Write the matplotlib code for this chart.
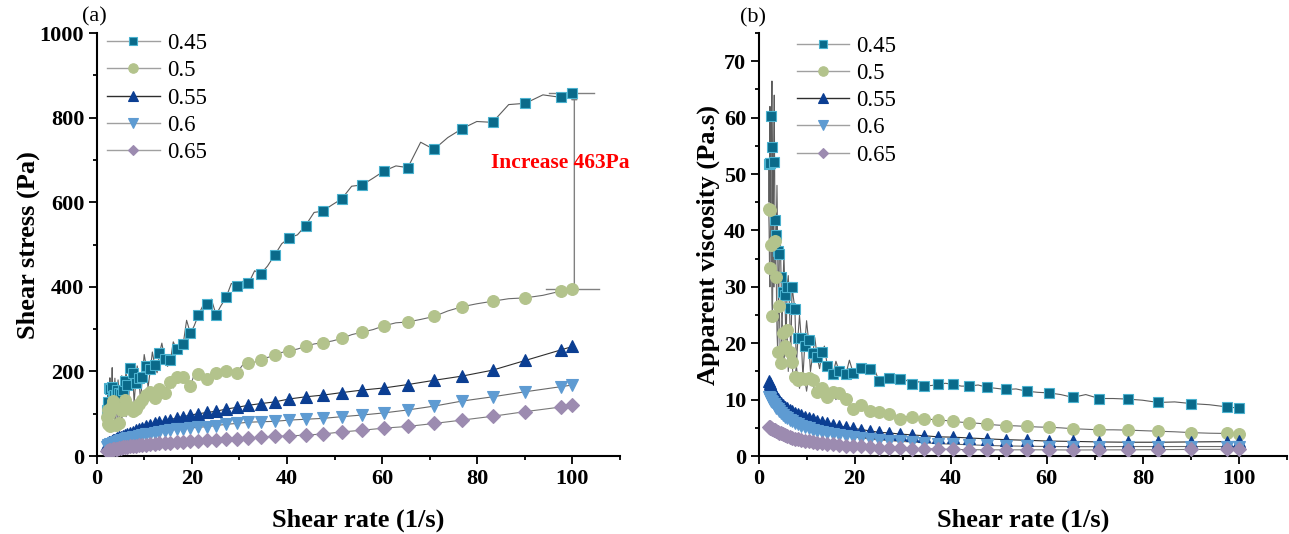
import matplotlib
matplotlib.use("Agg")
import matplotlib.pyplot as plt
from matplotlib.lines import Line2D
from matplotlib.ticker import MultipleLocator

plt.rcParams['font.family'] = ['Liberation Serif', 'DejaVu Serif']
plt.rcParams['font.weight'] = 'bold'

# Shear-rate ramp (1/s); every second point carries a symbol
shear_rate = [
    2.10, 2.19, 2.28, 2.37, 2.47, 2.57, 2.67, 2.78, 2.89, 3.01,
    3.13, 3.26, 3.40, 3.54, 3.68, 3.83, 3.98, 4.15, 4.32, 4.50,
    4.68, 4.87, 5.06, 5.27, 5.49, 5.71, 5.94, 6.18, 6.44, 6.70,
    6.98, 7.26, 7.56, 7.87, 8.19, 8.52, 8.87, 9.23, 9.60, 9.99,
    10.4, 10.8, 11.3, 11.7, 12.2, 12.7, 13.2, 13.7, 14.3, 14.9,
    15.5, 16.1, 16.8, 17.5, 18.2, 18.9, 19.7, 20.5, 21.4, 22.3,
    23.2, 24.1, 25.1, 26.1, 27.2, 28.3, 29.4, 30.6, 31.9, 33.2,
    34.5, 35.9, 37.4, 38.9, 40.5, 42.2, 43.9, 45.7, 47.5, 49.5,
    51.5, 53.6, 55.8, 58.1, 60.4, 62.9, 65.4, 68.1, 70.9, 73.8,
    76.8, 79.9, 83.2, 86.6, 90.1, 93.8, 97.6, 98.8, 100.0,
]
shear_rate_sym = shear_rate[::2]

ratios = ['0.45', '0.5', '0.55', '0.6', '0.65']

# Shear stress (Pa)
stress_045 = [
    109, 99, 119, 147, 128, 98, 161, 185, 158, 90,
    163, 209, 142, 117, 144, 184, 144, 100, 155, 180,
    149, 107, 147, 190, 156, 108, 178, 198, 169, 121,
    209, 203, 197, 126, 172, 213, 185, 129, 188, 240,
    213, 162, 206, 246, 215, 197, 243, 267, 229, 212,
    226, 270, 252, 245, 266, 321, 290, 308, 334, 355,
    360, 371, 334, 355, 375, 408, 403, 413, 408, 438,
    431, 449, 475, 502, 516, 523, 545, 576, 579, 594,
    608, 638, 641, 657, 674, 686, 682, 742, 725, 753,
    774, 791, 789, 831, 834, 854, 848, 850, 858,
]
stress_05 = [
    92, 88, 76, 71, 108, 113, 100, 75, 72, 108,
    119, 98, 130, 124, 117, 84, 74, 112, 115, 81,
    77, 117, 110, 84, 108, 131, 133, 93, 119, 134,
    117, 94, 106, 126, 111, 102, 122, 134, 132, 115,
    144, 140, 151, 129, 138, 157, 158, 140, 150, 173,
    175, 161, 188, 191, 186, 170, 165, 193, 195, 190,
    183, 195, 197, 196, 201, 204, 196, 214, 220, 222,
    228, 233, 238, 245, 249, 253, 259, 265, 268, 272,
    278, 287, 293, 299, 308, 315, 317, 323, 330, 343,
    353, 360, 366, 372, 374, 380, 390, 390, 395,
]
stress_055 = [
    28, 29.5, 31, 32.5, 34, 35.5, 37, 38.5, 40, 42,
    44, 46, 48, 50.5, 53, 55.5, 58, 61, 64, 67,
    71, 74, 77, 80, 83, 86, 90, 93, 97, 100,
    103, 106, 111, 115, 120, 124, 128, 135, 140, 144,
    150, 156, 161, 169, 179, 189, 203, 226, 251, 259,
]
stress_06 = [
    22, 23.5, 25, 26, 27.5, 29, 30, 31.5, 33, 34,
    35.5, 37, 38.5, 40, 41.5, 43, 44.5, 46, 47.5, 49,
    51, 53, 55, 57, 59, 61, 63, 65, 66.5, 68,
    69.5, 72, 75, 77, 80, 81, 82, 85, 87, 89,
    93, 97, 102, 109, 118, 130, 140, 152, 164, 168,
]
stress_065 = [
    11, 11.8, 12.5, 13.2, 14, 14.8, 15.5, 16.2, 17, 17.8,
    18.6, 19.4, 20.2, 21, 21.8, 22.6, 23.4, 24.2, 25, 26,
    27, 28, 29, 30, 31, 32, 33, 34, 35, 36,
    37, 38, 40, 41, 42, 45, 46.5, 47.5, 49.5, 52,
    57, 61, 66, 70, 77, 85, 94, 105, 116, 120,
]

# Apparent viscosity (Pa.s)
visc_045 = [
    51.8, 45, 52.0, 62, 51.9, 38, 60.3, 66.5, 54.8, 30,
    52.2, 64, 41.9, 33, 39.2, 48, 36.3, 24, 35.8, 40,
    31.8, 22, 29.1, 36, 28.5, 19, 29.9, 32, 26.2, 18,
    30.0, 28, 26.1, 16, 21.0, 25, 20.9, 14, 19.6, 24,
    20.5, 15, 18.2, 21, 17.6, 15.5, 18.4, 19.5, 16.0, 14.2,
    14.6, 16.8, 15.0, 14.0, 14.6, 17.0, 14.7, 15.0, 15.6, 15.9,
    15.5, 15.4, 13.3, 13.6, 13.8, 14.4, 13.7, 13.5, 12.8, 13.2,
    12.5, 12.5, 12.7, 12.9, 12.7, 12.4, 12.4, 12.6, 12.2, 12.0,
    11.8, 11.9, 11.5, 11.3, 11.2, 10.9, 10.4, 10.9, 10.2, 10.2,
    10.1, 9.9, 9.5, 9.6, 9.3, 9.1, 8.7, 8.6, 8.6,
]
visc_05 = [
    43.8, 40, 33.3, 30, 43.6, 44, 37.5, 27, 24.9, 36,
    38.0, 30, 38.2, 35, 31.8, 22, 18.5, 27, 26.6, 18,
    16.5, 24, 21.8, 16, 19.6, 23, 22.4, 15, 18.5, 20,
    16.7, 13, 14.0, 16, 13.5, 12, 13.8, 14.5, 13.7, 11.5,
    13.8, 13.0, 13.4, 11.0, 11.3, 12.4, 12.0, 10.2, 10.5, 11.6,
    11.3, 10.0, 11.2, 10.9, 10.2, 9.0, 8.4, 9.4, 9.1, 8.5,
    7.9, 8.1, 7.85, 7.5, 7.4, 7.2, 6.65, 7.0, 6.9, 6.7,
    6.6, 6.5, 6.35, 6.3, 6.15, 6.0, 5.9, 5.8, 5.65, 5.5,
    5.4, 5.35, 5.25, 5.15, 5.1, 5.0, 4.85, 4.75, 4.65, 4.65,
    4.6, 4.5, 4.4, 4.3, 4.15, 4.05, 4.0, 3.95, 3.95,
]
visc_055 = [
    13.3, 12.9, 12.6, 12.2, 11.8, 11.3, 10.9, 10.5, 10.1, 9.7,
    9.4, 9.1, 8.7, 8.5, 8.2, 7.95, 7.7, 7.45, 7.2, 7.0,
    6.8, 6.55, 6.3, 6.05, 5.8, 5.55, 5.35, 5.1, 4.9, 4.7,
    4.45, 4.2, 4.1, 3.9, 3.75, 3.6, 3.4, 3.35, 3.2, 3.05,
    2.9, 2.8, 2.65, 2.6, 2.5, 2.45, 2.45, 2.5, 2.55, 2.6,
]
visc_06 = [
    10.5, 10.3, 10.1, 9.7, 9.5, 9.3, 8.8, 8.6, 8.3, 7.9,
    7.6, 7.3, 7.0, 6.7, 6.4, 6.2, 5.9, 5.6, 5.35, 5.1,
    4.9, 4.7, 4.5, 4.3, 4.1, 3.95, 3.75, 3.55, 3.4, 3.2,
    3.0, 2.85, 2.75, 2.6, 2.5, 2.35, 2.2, 2.1, 2.0, 1.87,
    1.8, 1.74, 1.69, 1.67, 1.66, 1.69, 1.68, 1.69, 1.68, 1.68,
]
visc_065 = [
    5.2, 5.2, 5.05, 4.95, 4.85, 4.7, 4.55, 4.4, 4.3, 4.1,
    4.0, 3.85, 3.7, 3.55, 3.4, 3.25, 3.1, 2.95, 2.8, 2.7,
    2.6, 2.5, 2.4, 2.3, 2.15, 2.05, 1.95, 1.85, 1.8, 1.7,
    1.6, 1.5, 1.47, 1.4, 1.3, 1.3, 1.25, 1.17, 1.13, 1.1,
    1.1, 1.1, 1.1, 1.07, 1.09, 1.1, 1.13, 1.17, 1.19, 1.2,
]

stress_increase = 463

# Series styling
faces = ['#0a6a8a', '#b3c38c', '#0b3e92', '#5e9bd2', '#9c8bb0']
edges = ['#4bb2cf', '#b3c38c', '#0b3e92', '#5e9bd2', '#9c8bb0']
markers = ['s', 'o', '^', 'v', 'D']
msizes = [7.5, 8.5, 8.5, 8.5, 6.8]
line_cols = ['#5c5c5c', '#6a6a6a', '#2e2e2e', '#6a6a6a', '#7a7a7a']

fig = plt.figure(figsize=(12.89, 5.34), dpi=100)
ax_a = fig.add_axes([0.075, 0.146, 0.406, 0.792])
ax_b = fig.add_axes([0.5885, 0.146, 0.410, 0.792])


def draw_series(ax, curves):
    for i, (xs, ys, every) in enumerate(curves):
        ax.plot(xs, ys, color=line_cols[i], lw=0.8, zorder=2 + i * 0.1)
        ax.plot(xs, ys, ls='none', marker=markers[i], markevery=every,
                ms=msizes[i], mfc=faces[i], mec=edges[i], mew=0.8,
                zorder=3 + i * 0.1)


draw_series(ax_a, [
    (shear_rate, stress_045, 2),
    (shear_rate, stress_05, 2),
    (shear_rate_sym, stress_055, 1),
    (shear_rate_sym, stress_06, 1),
    (shear_rate_sym, stress_065, 1),
])
draw_series(ax_b, [
    (shear_rate, visc_045, 2),
    (shear_rate, visc_05, 2),
    (shear_rate_sym, visc_055, 1),
    (shear_rate_sym, visc_06, 1),
    (shear_rate_sym, visc_065, 1),
])

# Increase between the 0.45 and 0.5 curves at the highest shear rate
top = stress_045[-1]
base = top - stress_increase
x_arrow = shear_rate[-1] + 0.4
ax_a.plot([95.0, 104.5], [top, top], color='#808080', lw=1.0, zorder=2.5, clip_on=False)
ax_a.plot([94.5, 105.5], [base, base], color='#808080', lw=1.0, zorder=2.5, clip_on=False)
ax_a.annotate('', xy=(x_arrow, top), xytext=(x_arrow, base),
              arrowprops=dict(arrowstyle='-|>', mutation_scale=9, lw=1.0,
                              ec='#808080', fc='black', shrinkA=0, shrinkB=0),
              zorder=2.6)
ax_a.text(97.5, 692, f'Increase {stress_increase}Pa', color='#ff0000',
          fontsize=15.5, fontweight='bold', ha='center', va='center',
          clip_on=False, zorder=5)

for ax, top_lim, major, minor in ((ax_a, 1000, 200, 100), (ax_b, 75, 10, 5)):
    ax.set_xlim(0, 110)
    ax.set_ylim(0, top_lim)
    ax.xaxis.set_major_locator(MultipleLocator(20))
    ax.xaxis.set_minor_locator(MultipleLocator(10))
    ax.yaxis.set_major_locator(MultipleLocator(major))
    ax.yaxis.set_minor_locator(MultipleLocator(minor))
    for side in ('top', 'right'):
        ax.spines[side].set_visible(False)
    for side in ('left', 'bottom'):
        ax.spines[side].set_linewidth(1.5)
    ax.tick_params(which='major', direction='out', length=6, width=1.3,
                   labelsize=16, pad=3)
    ax.tick_params(which='minor', direction='out', length=3, width=1.3)
    ax.set_xlabel('Shear rate (1/s)', fontsize=19, fontweight='bold', va='center')
    ax.xaxis.set_label_coords(0.5, -0.151)

ax_a.set_ylabel('Shear stress (Pa)', fontsize=19, fontweight='bold', va='center')
ax_a.yaxis.set_label_coords(-0.131, 0.5)
ax_b.set_ylabel('Apparent viscosity (Pa.s)', fontsize=19, fontweight='bold', va='center')
ax_b.yaxis.set_label_coords(-0.096, 0.5)

ax_a.text(-0.005, 1.038, '(a)', transform=ax_a.transAxes, fontsize=16,
          fontweight='normal', ha='center', va='center')
ax_b.text(-0.011, 1.035, '(b)', transform=ax_b.transAxes, fontsize=16,
          fontweight='normal', ha='center', va='center')

handles = [Line2D([], [], color=line_cols[i] if i == 2 else '#a0a0a0', lw=1.0,
                  marker=markers[i], ms=msizes[i] * 0.8, mfc=faces[i],
                  mec=edges[i], mew=0.8) for i in range(5)]
for ax, anchor in ((ax_a, (0.02, 1.0)), (ax_b, (0.072, 0.994))):
    ax.legend(handles, ratios, loc='upper left', bbox_to_anchor=anchor,
              frameon=False, borderaxespad=0, borderpad=0, handlelength=2.3,
              handletextpad=0.3, labelspacing=0.27,
              prop={'size': 16.5, 'weight': 'normal'})

fig.savefig('out.png', dpi=100)
